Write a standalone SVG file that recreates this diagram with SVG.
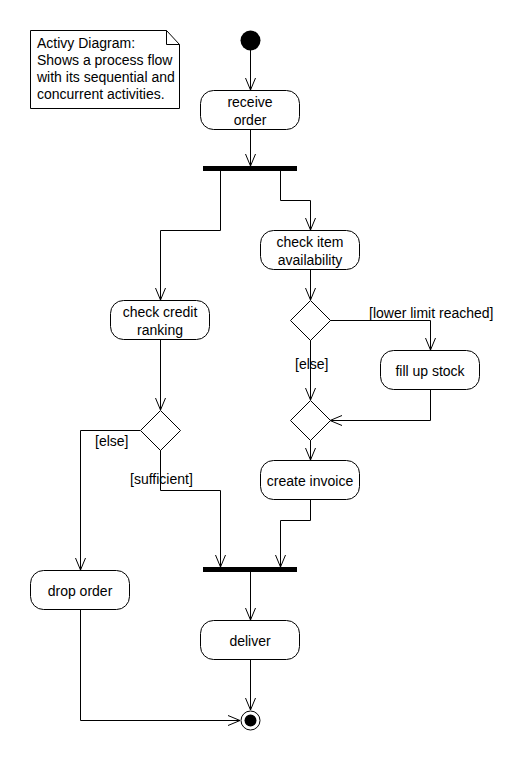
<svg xmlns="http://www.w3.org/2000/svg" width="531" height="760" viewBox="0 0 531 760">
<style>
text{font-family:"Liberation Sans",Arial,sans-serif;font-size:14px;fill:#000}
.n{fill:#fff;stroke:#000;stroke-width:1}
.c{fill:none;stroke:#000;stroke-width:1}
.t{text-anchor:middle}
</style>
<defs>
<marker id="a" viewBox="-13 -6 14 12" refX="0" refY="0" markerWidth="14" markerHeight="12" markerUnits="userSpaceOnUse" orient="auto">
<path d="M-12,-5 L0,0 L-12,5" fill="none" stroke="#000" stroke-width="1"/>
</marker>
</defs>
<rect width="531" height="760" fill="#fff"/>
<g id="note">
<path class="n" d="M30.5,30.5 H166.5 L179.5,44.5 V108.5 H30.5 Z"/>
<path class="c" d="M166.5,30.5 V44.5 H179.5"/>
<text x="37" y="48">Activy Diagram:</text>
<text x="37" y="65">Shows a process flow</text>
<text x="37" y="82">with its sequential and</text>
<text x="37" y="99">concurrent activities.</text>
</g>
<g id="connectors">
<path class="c" marker-end="url(#a)" d="M250.5,50 V90"/>
<path class="c" marker-end="url(#a)" d="M250.5,130 V166"/>
<path class="c" marker-end="url(#a)" d="M220.5,171 V230.5 H160.5 V300"/>
<path class="c" marker-end="url(#a)" d="M280.5,171 V200.5 H310.5 V230"/>
<path class="c" marker-end="url(#a)" d="M310.5,269 V300"/>
<path class="c" marker-end="url(#a)" d="M330,320.5 H430.5 V350"/>
<path class="c" marker-end="url(#a)" d="M310.5,340 V400"/>
<path class="c" marker-end="url(#a)" d="M430.5,389 V420.5 H330"/>
<path class="c" marker-end="url(#a)" d="M310.5,440 V460"/>
<path class="c" marker-end="url(#a)" d="M160.5,339 V410"/>
<path class="c" marker-end="url(#a)" d="M140,430.5 H80.5 V570"/>
<path class="c" marker-end="url(#a)" d="M160.5,450 V490.5 H220.5 V567"/>
<path class="c" marker-end="url(#a)" d="M310.5,499 V520.5 H280.5 V567"/>
<path class="c" marker-end="url(#a)" d="M250.5,572 V620"/>
<path class="c" marker-end="url(#a)" d="M250.5,659 V710"/>
<path class="c" marker-end="url(#a)" d="M80.5,609 V720.5 H240"/>
<text x="369" y="318">[lower limit reached]</text>
<text x="295" y="369">[else]</text>
<text x="95" y="446">[else]</text>
<text x="130" y="484">[sufficient]</text>
</g>
<g id="start"><circle cx="250.5" cy="40.5" r="10" fill="#000"/></g>
<g id="receive-order">
<rect class="n" x="200.5" y="90.5" width="99" height="39" rx="13"/>
<text class="t" x="250" y="107">receive</text>
<text class="t" x="250" y="125">order</text>
</g>
<g id="fork"><rect x="203" y="166" width="94" height="5" fill="#000"/></g>
<g id="check-item">
<rect class="n" x="260.5" y="230.5" width="99" height="39" rx="13"/>
<text class="t" x="310" y="247">check item</text>
<text class="t" x="310" y="265">availability</text>
</g>
<g id="decision1"><path class="n" d="M310.5,300.5 L330.5,320.5 L310.5,340.5 L290.5,320.5 Z"/></g>
<g id="fill-stock">
<rect class="n" x="380.5" y="350.5" width="99" height="39" rx="13"/>
<text class="t" x="430" y="376">fill up stock</text>
</g>
<g id="merge1"><path class="n" d="M310.5,400.5 L330.5,420.5 L310.5,440.5 L290.5,420.5 Z"/></g>
<g id="create-invoice">
<rect class="n" x="260.5" y="460.5" width="99" height="39" rx="13"/>
<text class="t" x="310" y="486">create invoice</text>
</g>
<g id="check-credit">
<rect class="n" x="110.5" y="300.5" width="99" height="39" rx="13"/>
<text class="t" x="160" y="317">check credit</text>
<text class="t" x="160" y="335">ranking</text>
</g>
<g id="decision2"><path class="n" d="M160.5,410.5 L180.5,430.5 L160.5,450.5 L140.5,430.5 Z"/></g>
<g id="join"><rect x="203" y="567" width="94" height="5" fill="#000"/></g>
<g id="drop-order">
<rect class="n" x="30.5" y="570.5" width="99" height="39" rx="13"/>
<text class="t" x="80" y="596">drop order</text>
</g>
<g id="deliver">
<rect class="n" x="200.5" y="620.5" width="99" height="39" rx="13"/>
<text class="t" x="250" y="646">deliver</text>
</g>
<g id="end">
<circle cx="250.5" cy="720.5" r="9.5" fill="#fff" stroke="#000"/>
<circle cx="250.5" cy="720.5" r="6" fill="#000"/>
</g>
</svg>
